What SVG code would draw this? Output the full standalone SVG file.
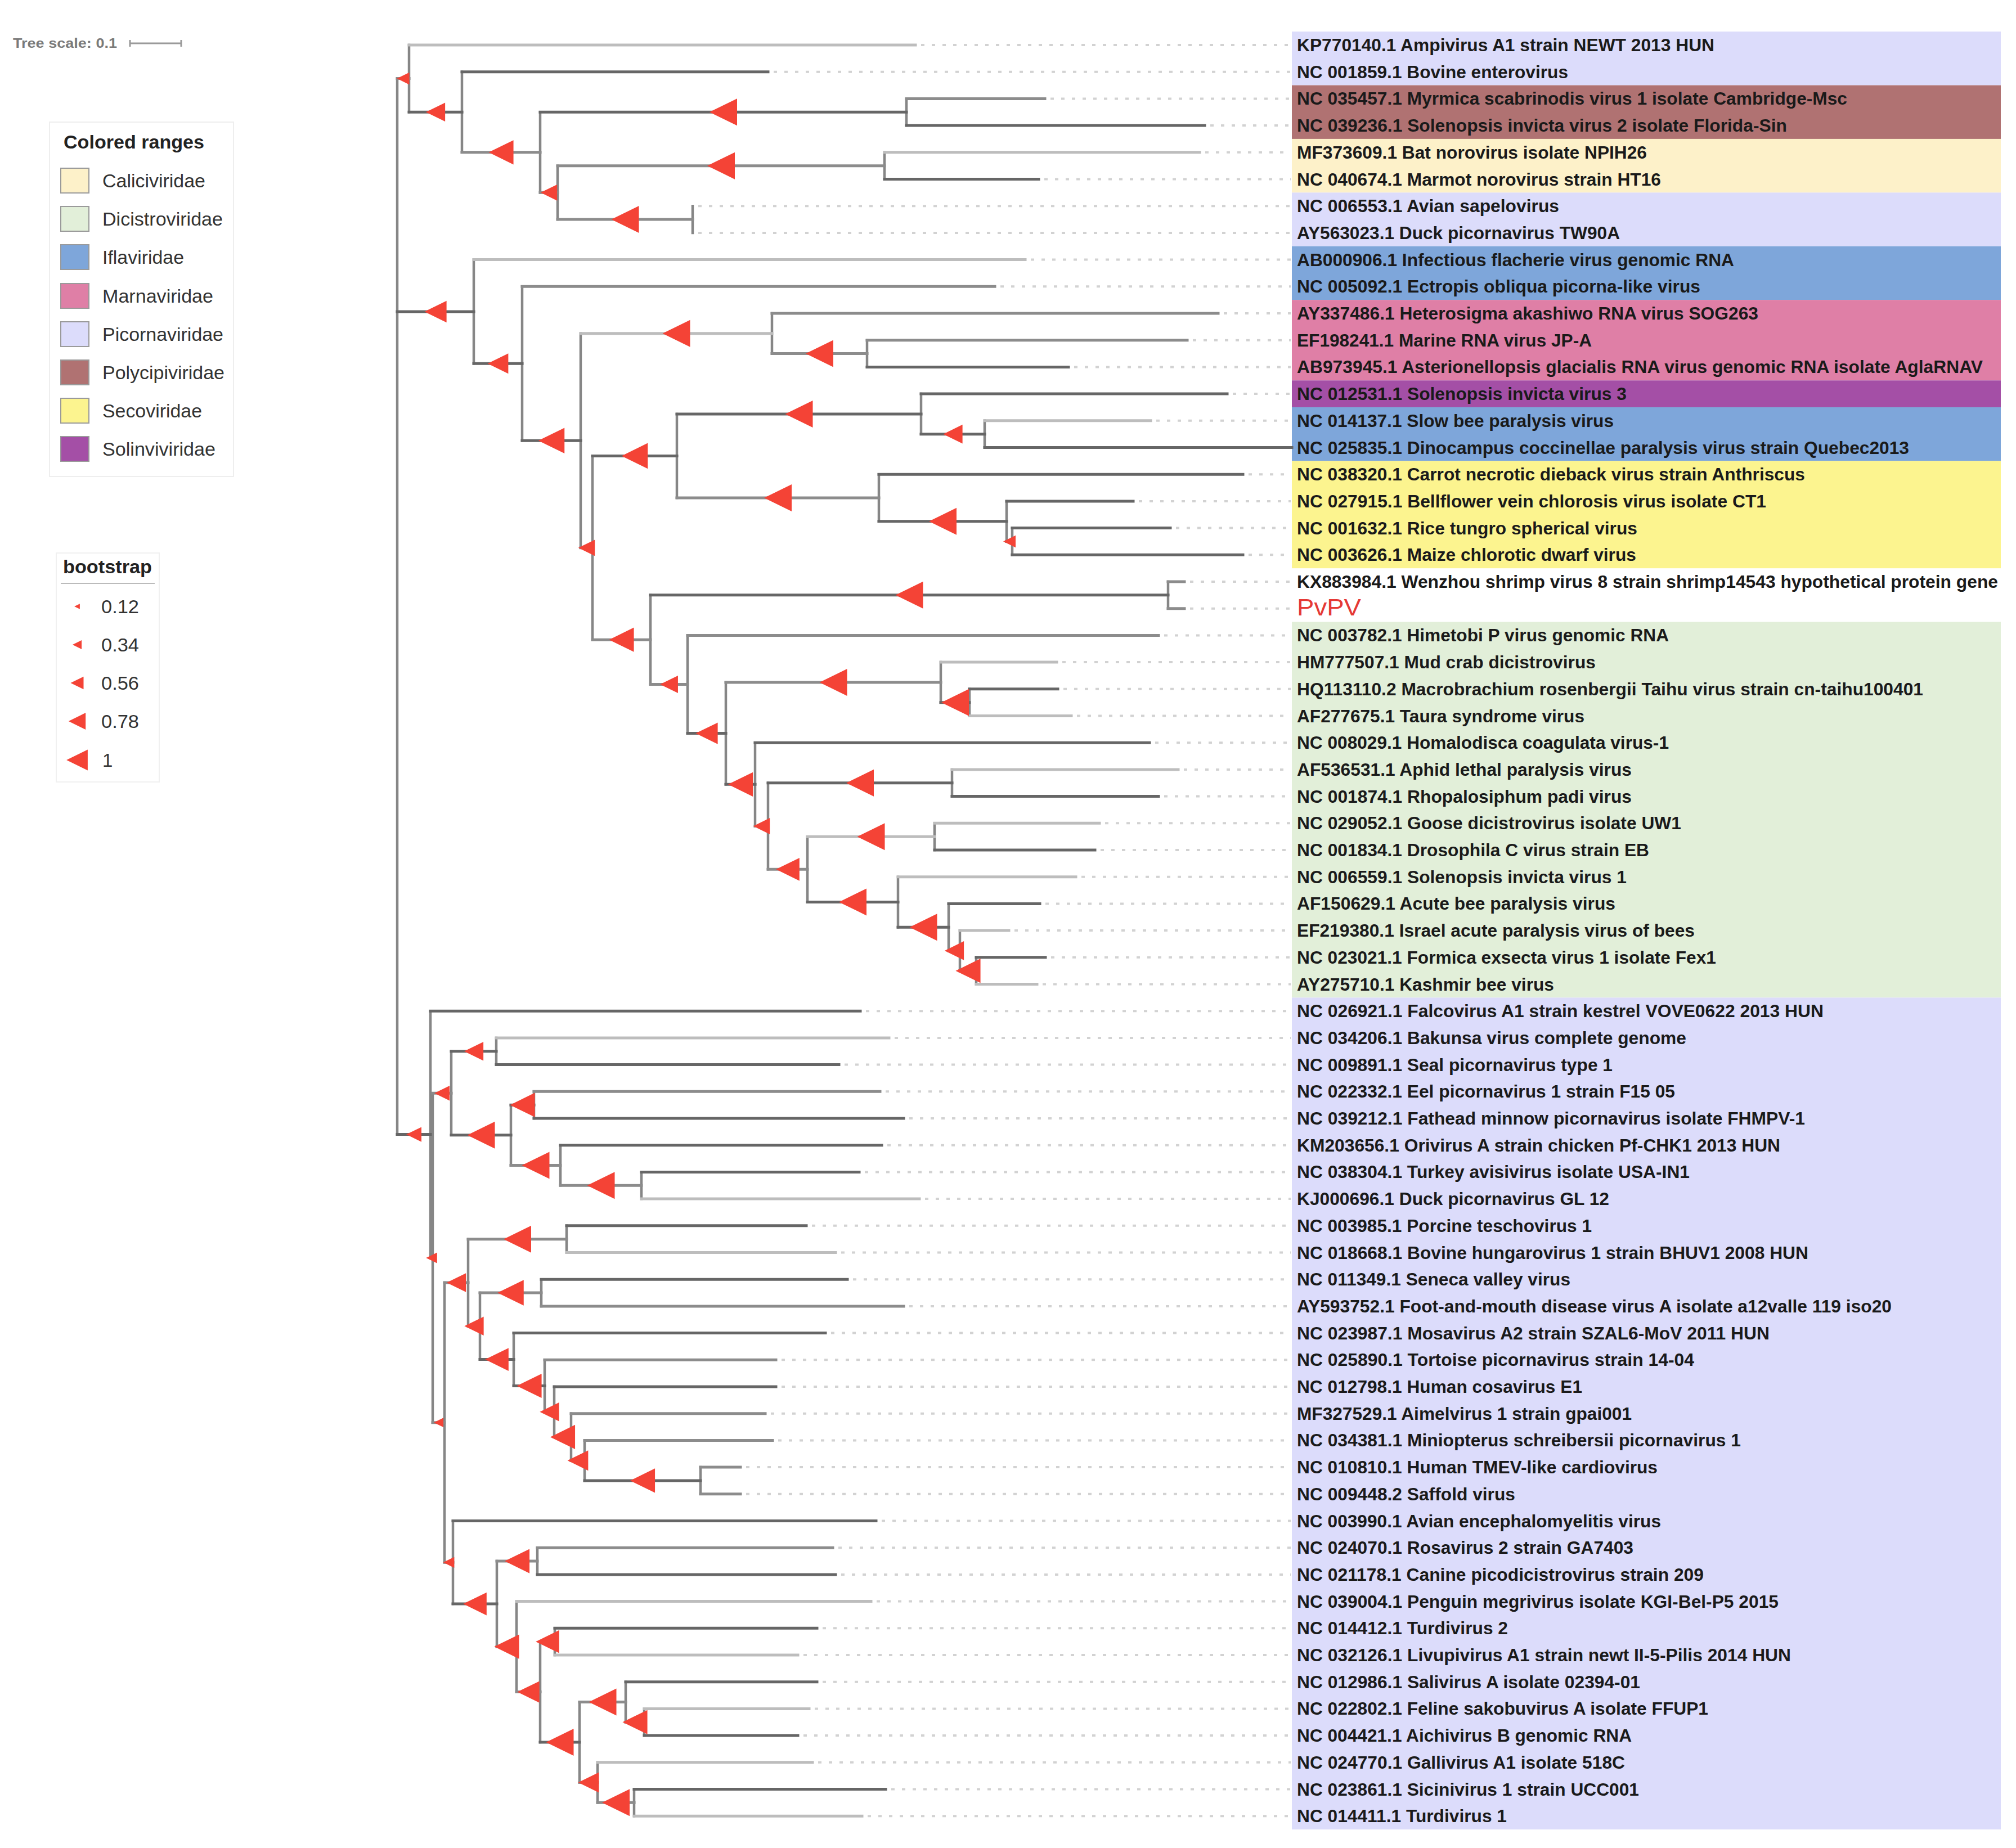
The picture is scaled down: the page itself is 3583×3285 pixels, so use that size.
<svg xmlns="http://www.w3.org/2000/svg" width="3583" height="3285" viewBox="0 0 3583 3285">
<style>
.br{fill:none;stroke-width:5;stroke-linecap:square}
.d{stroke:#666}
.m{stroke:#8c8c8c}
.l{stroke:#bdbdbd}
.v{fill:none;stroke:#868686;stroke-width:4.5;stroke-linecap:square}
.dot{fill:none;stroke:#d2d2d2;stroke-width:4;stroke-dasharray:6 13}
.lab{font-family:"Liberation Sans",Arial,sans-serif;font-weight:bold;font-size:31px;fill:#1a1a1a}
.lg{font-family:"Liberation Sans",Arial,sans-serif;font-size:33px;fill:#333}
.lgt{font-family:"Liberation Sans",Arial,sans-serif;font-weight:bold;font-size:34px;fill:#222}
.sw{stroke:#9a9a9a;stroke-width:2}
.bs{fill:#f44336}
</style>
<defs>
<path id="tri" d="M-24.5,0L24.5,-24L24.5,24Z"/>
</defs>
<rect width="3583" height="3285" fill="#fff"/>

<g id="legend-scale">
<text x="23" y="85" font-family="Liberation Sans, Arial, sans-serif" font-size="24" font-weight="bold" fill="#7a7a7a" textLength="185" lengthAdjust="spacingAndGlyphs">Tree scale: 0.1</text>
<path d="M231 77H322M231 71V83M322 71V83" stroke="#9a9a9a" stroke-width="3" fill="none"/>
</g>

<g id="legend-ranges">
<rect x="88" y="217" width="327" height="630" fill="#fff" stroke="#eeeeee" stroke-width="2"/>
<text class="lgt" x="113" y="264" textLength="250" lengthAdjust="spacingAndGlyphs">Colored ranges</text>
<rect class="sw" x="108" y="299" width="50" height="44" fill="#fdf1c9"/>
<text class="lg" x="182" y="333" textLength="183" lengthAdjust="spacingAndGlyphs">Caliciviridae</text>
<rect class="sw" x="108" y="367" width="50" height="44" fill="#e2efd9"/>
<text class="lg" x="182" y="401" textLength="214" lengthAdjust="spacingAndGlyphs">Dicistroviridae</text>
<rect class="sw" x="108" y="435" width="50" height="44" fill="#7ea6da"/>
<text class="lg" x="182" y="469" textLength="145" lengthAdjust="spacingAndGlyphs">Iflaviridae</text>
<rect class="sw" x="108" y="504" width="50" height="44" fill="#df7fa6"/>
<text class="lg" x="182" y="538" textLength="197" lengthAdjust="spacingAndGlyphs">Marnaviridae</text>
<rect class="sw" x="108" y="572" width="50" height="44" fill="#dcdcfb"/>
<text class="lg" x="182" y="606" textLength="215" lengthAdjust="spacingAndGlyphs">Picornaviridae</text>
<rect class="sw" x="108" y="640" width="50" height="44" fill="#b07272"/>
<text class="lg" x="182" y="674" textLength="217" lengthAdjust="spacingAndGlyphs">Polycipiviridae</text>
<rect class="sw" x="108" y="708" width="50" height="44" fill="#fcf48f"/>
<text class="lg" x="182" y="742" textLength="177" lengthAdjust="spacingAndGlyphs">Secoviridae</text>
<rect class="sw" x="108" y="776" width="50" height="44" fill="#a44fa6"/>
<text class="lg" x="182" y="810" textLength="201" lengthAdjust="spacingAndGlyphs">Solinviviridae</text>
</g>

<g id="legend-bootstrap">
<rect x="100" y="983" width="183" height="407" fill="#fff" stroke="#f0f0f0" stroke-width="2"/>
<text class="lgt" x="112" y="1019" textLength="158" lengthAdjust="spacingAndGlyphs">bootstrap</text>
<line x1="108" y1="1037" x2="275" y2="1037" stroke="#bbb" stroke-width="2"/>
<use href="#tri" class="bs" transform="translate(137,1078) scale(0.2)"/>
<use href="#tri" class="bs" transform="translate(137,1146) scale(0.33)"/>
<use href="#tri" class="bs" transform="translate(137,1214) scale(0.47)"/>
<use href="#tri" class="bs" transform="translate(137,1282) scale(0.62)"/>
<use href="#tri" class="bs" transform="translate(137,1351) scale(0.77)"/>
<text class="lg" x="180" y="1090" textLength="67" lengthAdjust="spacingAndGlyphs">0.12</text>
<text class="lg" x="180" y="1158" textLength="67" lengthAdjust="spacingAndGlyphs">0.34</text>
<text class="lg" x="180" y="1226" textLength="67" lengthAdjust="spacingAndGlyphs">0.56</text>
<text class="lg" x="180" y="1294" textLength="67" lengthAdjust="spacingAndGlyphs">0.78</text>
<text class="lg" x="182" y="1363">1</text>
</g>

<g id="ranges">
<rect x="2296" y="56.15" width="1260" height="95.4" fill="#dcdcfb"/>
<rect x="2296" y="151.55" width="1260" height="95.4" fill="#b07272"/>
<rect x="2296" y="246.95" width="1260" height="95.4" fill="#fdf1c9"/>
<rect x="2296" y="342.35" width="1260" height="95.4" fill="#dcdcfb"/>
<rect x="2296" y="437.75" width="1260" height="95.4" fill="#7ea6da"/>
<rect x="2296" y="533.15" width="1260" height="143.1" fill="#df7fa6"/>
<rect x="2296" y="676.25" width="1260" height="47.7" fill="#a44fa6"/>
<rect x="2296" y="723.95" width="1260" height="95.4" fill="#7ea6da"/>
<rect x="2296" y="819.35" width="1260" height="190.8" fill="#fcf48f"/>
<rect x="2296" y="1105.55" width="1260" height="667.8" fill="#e2efd9"/>
<rect x="2296" y="1773.35" width="1260" height="1478.7" fill="#dcdcfb"/>
</g>

<g id="connectors">
<path class="dot" d="M1637 80H2294M1375 127.7H2294M1867 175.4H2294M2151 223.1H2294M2142 270.8H2294M1856 318.5H2294M1241 366.2H2294M1241 413.9H2294M1832 461.6H2294M1778 509.3H2294M2175 557H2294M2120 604.7H2294M1909 652.4H2294M2191 700.1H2294M2055 747.8H2294M2219 843.2H2294M2024 890.9H2294M2090 938.6H2294M2219 986.3H2294M2115 1034H2294M2115 1081.7H2294M2069 1129.4H2294M1888 1177.1H2294M1890 1224.8H2294M1914 1272.5H2294M2053 1320.2H2294M2104 1367.9H2294M2069 1415.6H2294M1964 1463.3H2294M1956 1511H2294M1922 1558.7H2294M1858 1606.4H2294M1803 1654.1H2294M1868 1701.8H2294M1853 1749.5H2294M1539 1797.2H2294M1590 1844.9H2294M1501 1892.6H2294M1574 1940.3H2294M1616 1988H2294M1577 2035.7H2294M1537 2083.4H2294M1644 2131.1H2294M1443 2178.8H2294M1495 2226.5H2294M1516 2274.2H2294M1616 2321.9H2294M1477 2369.6H2294M1389 2417.3H2294M1389 2465H2294M1370 2512.7H2294M1383 2560.4H2294M1326 2608.1H2294M1326 2655.8H2294M1567 2703.5H2294M1490 2751.2H2294M1495 2798.9H2294M1558 2846.6H2294M1462 2894.3H2294M1428 2942H2294M1462 2989.7H2294M1448 3037.4H2294M1428 3085.1H2294M1454 3132.8H2294M1584 3180.5H2294M1542 3228.2H2294"/>
<path class="v" d="M706 139.6V2016.6M727 80V199.25M821 127.7V270.8M960 199.25V342.35M1611 175.4V223.1M991 294.65V390.05M1572 270.8V318.5M1231 366.2V413.9M842 461.6V646.3M928 509.3V783.3M1032 592.8V973.8M1372 557V628.55M1541 604.7V652.4M1053 810.4V1137.2M1203 735.9V884.95M1637 700.1V771.65M1750 747.8V795.5M1562 843.2V926.7M1789 890.9V962.45M1799 938.6V986.3M1156 1057.85V1216.5M2076 1034V1081.7M1222 1129.4V1303.6M1290 1212.9V1394.35M1672 1177.1V1248.65M1723 1224.8V1272.5M1342 1320.2V1468.5M1365 1391.75V1545.3M1692 1367.9V1415.6M1435 1487.15V1603.4M1661 1463.3V1511M1596 1558.7V1648.15M1686 1606.4V1689.9M1706 1654.1V1725.65M1735 1701.8V1749.5M765 1797.2V2236M769 1943.3V2528.65M802 1868.75V2017.8M882 1844.9V1892.6M908 1964.15V2071.5M949 1940.3V1988M996 2035.7V2107.25M1140 2083.4V2131.1M790 2280V2777.3M832 2202.65V2357.3M1007 2178.8V2226.5M853 2298.05V2416.55M962 2274.2V2321.9M913 2369.6V2463.5M968 2417.3V2509.7M985 2465V2554.45M1015 2512.7V2596.2M1039 2560.4V2631.95M1245 2608.1V2655.8M805 2703.5V2851.1M883 2775.05V2927.1M955 2751.2V2798.9M918 2846.6V3007.6M960 2918.15V3097.05M986 2894.3V2942M1030 3025.5V3168.6M1112 2989.7V3061.25M1145 3037.4V3085.1M1062 3132.8V3204.35M1127 3180.5V3228.2"/>
<path class="br d" d="M706 553.95H842M706 2016.6H765M727 199.25H821M821 127.7H1365M960 199.25H1611M1611 223.1H2141M1572 318.5H1846M842 646.3H928M928 783.3H1032M1541 652.4H1899M1053 810.4H1203M1203 735.9H1637M1637 700.1H2181M1637 771.65H1750M1750 795.5H2296M1562 843.2H2209M1562 926.7H1789M1789 890.9H2014M1789 962.45H1799M1799 938.6H2080M1799 986.3H2209M1156 1057.85H2076M1222 1303.6H1290M1290 1394.35H1342M1672 1248.65H1723M1723 1224.8H1880M1342 1320.2H2043M1365 1391.75H1692M1692 1415.6H2059M1435 1603.4H1596M1661 1511H1946M1596 1648.15H1686M1686 1606.4H1848M1706 1725.65H1735M1735 1701.8H1858M765 1797.2H1529M765 2236H769M802 1868.75H882M802 2017.8H908M882 1892.6H1491M908 1964.15H949M949 1988H1606M996 2035.7H1567M1140 2083.4H1527M1007 2178.8H1433M962 2274.2H1506M853 2416.55H913M913 2369.6H1467M913 2463.5H968M985 2465H1379M1039 2631.95H1245M805 2703.5H1557M805 2851.1H883M955 2798.9H1485M960 3097.05H1030M986 2894.3H1452M1112 2989.7H1452M1145 3085.1H1418M1127 3180.5H1574"/>
<path class="br m" d="M706 139.6H727M821 270.8H960M1611 175.4H1857M960 342.35H991M991 294.65H1572M991 390.05H1231M928 509.3H1768M1032 973.8H1053M1372 557H2165M1372 628.55H1541M1541 604.7H2110M1203 884.95H1562M1053 1137.2H1156M2076 1034H2105M2076 1081.7H2105M1156 1216.5H1222M1222 1129.4H2059M1290 1212.9H1672M1342 1468.5H1365M1365 1545.3H1435M1686 1689.9H1706M769 1943.3H802M769 2528.65H790M908 2071.5H996M949 1940.3H1564M996 2107.25H1140M790 2280H832M790 2777.3H805M832 2202.65H1007M832 2357.3H853M853 2298.05H962M962 2321.9H1606M968 2417.3H1379M968 2509.7H985M985 2554.45H1015M1015 2512.7H1360M1015 2596.2H1039M1039 2560.4H1373M1245 2608.1H1316M1245 2655.8H1316M883 2775.05H955M883 2927.1H918M955 2751.2H1480M918 3007.6H960M960 2918.15H986M1030 3025.5H1112M1030 3168.6H1062M1112 3061.25H1145M1062 3204.35H1127"/>
<path class="br l" d="M727 80H1627M1572 270.8H2132M842 461.6H1822M1032 592.8H1372M1750 747.8H2045M1672 1177.1H1878M1723 1272.5H1904M1692 1367.9H2094M1435 1487.15H1661M1661 1463.3H1954M1596 1558.7H1912M1706 1654.1H1793M1735 1749.5H1843M882 1844.9H1580M1140 2131.1H1634M1007 2226.5H1485M918 2846.6H1548M986 2942H1418M1145 3037.4H1438M1062 3132.8H1444M1127 3228.2H1532"/>
</g>

<g id="bootstrap-markers" class="bs">
<use href="#tri" transform="translate(716.5,139.6) scale(0.45)"/>
<use href="#tri" transform="translate(774,199.25) scale(0.7)"/>
<use href="#tri" transform="translate(890.5,270.8) scale(0.9)"/>
<use href="#tri" transform="translate(1285.5,199.25)"/>
<use href="#tri" transform="translate(975.5,342.35) scale(0.6)"/>
<use href="#tri" transform="translate(1281.5,294.65)"/>
<use href="#tri" transform="translate(1111,390.05)"/>
<use href="#tri" transform="translate(774,553.95) scale(0.8)"/>
<use href="#tri" transform="translate(885,646.3) scale(0.75)"/>
<use href="#tri" transform="translate(980,783.3) scale(0.95)"/>
<use href="#tri" transform="translate(1202,592.8)"/>
<use href="#tri" transform="translate(1456.5,628.55)"/>
<use href="#tri" transform="translate(1042.5,973.8) scale(0.6)"/>
<use href="#tri" transform="translate(1128,810.4) scale(0.95)"/>
<use href="#tri" transform="translate(1420,735.9)"/>
<use href="#tri" transform="translate(1693.5,771.65) scale(0.7)"/>
<use href="#tri" transform="translate(1382.5,884.95)"/>
<use href="#tri" transform="translate(1675.5,926.7)"/>
<use href="#tri" transform="translate(1794,962.45) scale(0.45)"/>
<use href="#tri" transform="translate(1104.5,1137.2) scale(0.9)"/>
<use href="#tri" transform="translate(1616,1057.85)"/>
<use href="#tri" transform="translate(1189,1216.5) scale(0.65)"/>
<use href="#tri" transform="translate(1256,1303.6) scale(0.8)"/>
<use href="#tri" transform="translate(1481,1212.9)"/>
<use href="#tri" transform="translate(1697.5,1248.65)"/>
<use href="#tri" transform="translate(1316,1394.35) scale(0.9)"/>
<use href="#tri" transform="translate(1353.5,1468.5) scale(0.6)"/>
<use href="#tri" transform="translate(1528.5,1391.75)"/>
<use href="#tri" transform="translate(1400,1545.3) scale(0.85)"/>
<use href="#tri" transform="translate(1548,1487.15)"/>
<use href="#tri" transform="translate(1515.5,1603.4)"/>
<use href="#tri" transform="translate(1641,1648.15)"/>
<use href="#tri" transform="translate(1696,1689.9) scale(0.7)"/>
<use href="#tri" transform="translate(1720.5,1725.65) scale(0.9)"/>
<use href="#tri" transform="translate(735.5,2016.6) scale(0.55)"/>
<use href="#tri" transform="translate(767,2236) scale(0.4)"/>
<use href="#tri" transform="translate(785.5,1943.3) scale(0.55)"/>
<use href="#tri" transform="translate(779.5,2528.65) scale(0.35)"/>
<use href="#tri" transform="translate(842,1868.75) scale(0.7)"/>
<use href="#tri" transform="translate(855,2017.8)"/>
<use href="#tri" transform="translate(928.5,1964.15) scale(0.9)"/>
<use href="#tri" transform="translate(952,2071.5)"/>
<use href="#tri" transform="translate(1068,2107.25)"/>
<use href="#tri" transform="translate(811,2280) scale(0.7)"/>
<use href="#tri" transform="translate(919.5,2202.65)"/>
<use href="#tri" transform="translate(842.5,2357.3) scale(0.7)"/>
<use href="#tri" transform="translate(907.5,2298.05) scale(0.95)"/>
<use href="#tri" transform="translate(883,2416.55) scale(0.85)"/>
<use href="#tri" transform="translate(940.5,2463.5) scale(0.9)"/>
<use href="#tri" transform="translate(976.5,2509.7) scale(0.7)"/>
<use href="#tri" transform="translate(1000,2554.45) scale(0.9)"/>
<use href="#tri" transform="translate(1027,2596.2) scale(0.75)"/>
<use href="#tri" transform="translate(1142,2631.95) scale(0.9)"/>
<use href="#tri" transform="translate(797.5,2777.3) scale(0.4)"/>
<use href="#tri" transform="translate(844,2851.1) scale(0.85)"/>
<use href="#tri" transform="translate(919,2775.05) scale(0.9)"/>
<use href="#tri" transform="translate(900.5,2927.1) scale(0.9)"/>
<use href="#tri" transform="translate(939,3007.6) scale(0.8)"/>
<use href="#tri" transform="translate(973,2918.15) scale(0.85)"/>
<use href="#tri" transform="translate(995,3097.05)"/>
<use href="#tri" transform="translate(1071,3025.5)"/>
<use href="#tri" transform="translate(1128.5,3061.25) scale(0.9)"/>
<use href="#tri" transform="translate(1046,3168.6) scale(0.75)"/>
<use href="#tri" transform="translate(1094.5,3204.35)"/>
</g>

<g id="leaves" class="lab">
<g id="leaf-00"><text x="2305" y="91" textLength="742" lengthAdjust="spacingAndGlyphs">KP770140.1 Ampivirus A1 strain NEWT 2013 HUN</text></g>
<g id="leaf-01"><text x="2305" y="138.7" textLength="482" lengthAdjust="spacingAndGlyphs">NC 001859.1 Bovine enterovirus</text></g>
<g id="leaf-02"><text x="2305" y="186.4" textLength="978" lengthAdjust="spacingAndGlyphs">NC 035457.1 Myrmica scabrinodis virus 1 isolate Cambridge-Msc</text></g>
<g id="leaf-03"><text x="2305" y="234.1" textLength="871" lengthAdjust="spacingAndGlyphs">NC 039236.1 Solenopsis invicta virus 2 isolate Florida-Sin</text></g>
<g id="leaf-04"><text x="2305" y="281.8" textLength="622" lengthAdjust="spacingAndGlyphs">MF373609.1 Bat norovirus isolate NPIH26</text></g>
<g id="leaf-05"><text x="2305" y="329.5" textLength="647" lengthAdjust="spacingAndGlyphs">NC 040674.1 Marmot norovirus strain HT16</text></g>
<g id="leaf-06"><text x="2305" y="377.2" textLength="466" lengthAdjust="spacingAndGlyphs">NC 006553.1 Avian sapelovirus</text></g>
<g id="leaf-07"><text x="2305" y="424.9" textLength="574" lengthAdjust="spacingAndGlyphs">AY563023.1 Duck picornavirus TW90A</text></g>
<g id="leaf-08"><text x="2305" y="472.6" textLength="777" lengthAdjust="spacingAndGlyphs">AB000906.1 Infectious flacherie virus genomic RNA</text></g>
<g id="leaf-09"><text x="2305" y="520.3" textLength="717" lengthAdjust="spacingAndGlyphs">NC 005092.1 Ectropis obliqua picorna-like virus</text></g>
<g id="leaf-10"><text x="2305" y="568" textLength="820" lengthAdjust="spacingAndGlyphs">AY337486.1 Heterosigma akashiwo RNA virus SOG263</text></g>
<g id="leaf-11"><text x="2305" y="615.7" textLength="524" lengthAdjust="spacingAndGlyphs">EF198241.1 Marine RNA virus JP-A</text></g>
<g id="leaf-12"><text x="2305" y="663.4" textLength="1219" lengthAdjust="spacingAndGlyphs">AB973945.1 Asterionellopsis glacialis RNA virus genomic RNA isolate AglaRNAV</text></g>
<g id="leaf-13"><text x="2305" y="711.1" textLength="586" lengthAdjust="spacingAndGlyphs">NC 012531.1 Solenopsis invicta virus 3</text></g>
<g id="leaf-14"><text x="2305" y="758.8" textLength="563" lengthAdjust="spacingAndGlyphs">NC 014137.1 Slow bee paralysis virus</text></g>
<g id="leaf-15"><text x="2305" y="806.5" textLength="1088" lengthAdjust="spacingAndGlyphs">NC 025835.1 Dinocampus coccinellae paralysis virus strain Quebec2013</text></g>
<g id="leaf-16"><text x="2305" y="854.2" textLength="903" lengthAdjust="spacingAndGlyphs">NC 038320.1 Carrot necrotic dieback virus strain Anthriscus</text></g>
<g id="leaf-17"><text x="2305" y="901.9" textLength="834" lengthAdjust="spacingAndGlyphs">NC 027915.1 Bellflower vein chlorosis virus isolate CT1</text></g>
<g id="leaf-18"><text x="2305" y="949.6" textLength="605" lengthAdjust="spacingAndGlyphs">NC 001632.1 Rice tungro spherical virus</text></g>
<g id="leaf-19"><text x="2305" y="997.3" textLength="603" lengthAdjust="spacingAndGlyphs">NC 003626.1 Maize chlorotic dwarf virus</text></g>
<g id="leaf-20"><text x="2305" y="1045" textLength="1246" lengthAdjust="spacingAndGlyphs">KX883984.1 Wenzhou shrimp virus 8 strain shrimp14543 hypothetical protein gene</text></g>
<g id="leaf-21"><text x="2305" y="1094" font-weight="normal" font-size="42" fill="#e53935" textLength="114" lengthAdjust="spacingAndGlyphs">PvPV</text></g>
<g id="leaf-22"><text x="2305" y="1140.4" textLength="661" lengthAdjust="spacingAndGlyphs">NC 003782.1 Himetobi P virus genomic RNA</text></g>
<g id="leaf-23"><text x="2305" y="1188.1" textLength="531" lengthAdjust="spacingAndGlyphs">HM777507.1 Mud crab dicistrovirus</text></g>
<g id="leaf-24"><text x="2305" y="1235.8" textLength="1113" lengthAdjust="spacingAndGlyphs">HQ113110.2 Macrobrachium rosenbergii Taihu virus strain cn-taihu100401</text></g>
<g id="leaf-25"><text x="2305" y="1283.5" textLength="511" lengthAdjust="spacingAndGlyphs">AF277675.1 Taura syndrome virus</text></g>
<g id="leaf-26"><text x="2305" y="1331.2" textLength="661" lengthAdjust="spacingAndGlyphs">NC 008029.1 Homalodisca coagulata virus-1</text></g>
<g id="leaf-27"><text x="2305" y="1378.9" textLength="595" lengthAdjust="spacingAndGlyphs">AF536531.1 Aphid lethal paralysis virus</text></g>
<g id="leaf-28"><text x="2305" y="1426.6" textLength="595" lengthAdjust="spacingAndGlyphs">NC 001874.1 Rhopalosiphum padi virus</text></g>
<g id="leaf-29"><text x="2305" y="1474.3" textLength="683" lengthAdjust="spacingAndGlyphs">NC 029052.1 Goose dicistrovirus isolate UW1</text></g>
<g id="leaf-30"><text x="2305" y="1522" textLength="626" lengthAdjust="spacingAndGlyphs">NC 001834.1 Drosophila C virus strain EB</text></g>
<g id="leaf-31"><text x="2305" y="1569.7" textLength="586" lengthAdjust="spacingAndGlyphs">NC 006559.1 Solenopsis invicta virus 1</text></g>
<g id="leaf-32"><text x="2305" y="1617.4" textLength="566" lengthAdjust="spacingAndGlyphs">AF150629.1 Acute bee paralysis virus</text></g>
<g id="leaf-33"><text x="2305" y="1665.1" textLength="707" lengthAdjust="spacingAndGlyphs">EF219380.1 Israel acute paralysis virus of bees</text></g>
<g id="leaf-34"><text x="2305" y="1712.8" textLength="745" lengthAdjust="spacingAndGlyphs">NC 023021.1 Formica exsecta virus 1 isolate Fex1</text></g>
<g id="leaf-35"><text x="2305" y="1760.5" textLength="457" lengthAdjust="spacingAndGlyphs">AY275710.1 Kashmir bee virus</text></g>
<g id="leaf-36"><text x="2305" y="1808.2" textLength="936" lengthAdjust="spacingAndGlyphs">NC 026921.1 Falcovirus A1 strain kestrel VOVE0622 2013 HUN</text></g>
<g id="leaf-37"><text x="2305" y="1855.9" textLength="692" lengthAdjust="spacingAndGlyphs">NC 034206.1 Bakunsa virus complete genome</text></g>
<g id="leaf-38"><text x="2305" y="1903.6" textLength="561" lengthAdjust="spacingAndGlyphs">NC 009891.1 Seal picornavirus type 1</text></g>
<g id="leaf-39"><text x="2305" y="1951.3" textLength="672" lengthAdjust="spacingAndGlyphs">NC 022332.1 Eel picornavirus 1 strain F15 05</text></g>
<g id="leaf-40"><text x="2305" y="1999" textLength="903" lengthAdjust="spacingAndGlyphs">NC 039212.1 Fathead minnow picornavirus isolate FHMPV-1</text></g>
<g id="leaf-41"><text x="2305" y="2046.7" textLength="859" lengthAdjust="spacingAndGlyphs">KM203656.1 Orivirus A strain chicken Pf-CHK1 2013 HUN</text></g>
<g id="leaf-42"><text x="2305" y="2094.4" textLength="698" lengthAdjust="spacingAndGlyphs">NC 038304.1 Turkey avisivirus isolate USA-IN1</text></g>
<g id="leaf-43"><text x="2305" y="2142.1" textLength="555" lengthAdjust="spacingAndGlyphs">KJ000696.1 Duck picornavirus GL 12</text></g>
<g id="leaf-44"><text x="2305" y="2189.8" textLength="524" lengthAdjust="spacingAndGlyphs">NC 003985.1 Porcine teschovirus 1</text></g>
<g id="leaf-45"><text x="2305" y="2237.5" textLength="909" lengthAdjust="spacingAndGlyphs">NC 018668.1 Bovine hungarovirus 1 strain BHUV1 2008 HUN</text></g>
<g id="leaf-46"><text x="2305" y="2285.2" textLength="486" lengthAdjust="spacingAndGlyphs">NC 011349.1 Seneca valley virus</text></g>
<g id="leaf-47"><text x="2305" y="2332.9" textLength="1057" lengthAdjust="spacingAndGlyphs">AY593752.1 Foot-and-mouth disease virus A isolate a12valle 119 iso20</text></g>
<g id="leaf-48"><text x="2305" y="2380.6" textLength="840" lengthAdjust="spacingAndGlyphs">NC 023987.1 Mosavirus A2 strain SZAL6-MoV 2011 HUN</text></g>
<g id="leaf-49"><text x="2305" y="2428.3" textLength="706" lengthAdjust="spacingAndGlyphs">NC 025890.1 Tortoise picornavirus strain 14-04</text></g>
<g id="leaf-50"><text x="2305" y="2476" textLength="507" lengthAdjust="spacingAndGlyphs">NC 012798.1 Human cosavirus E1</text></g>
<g id="leaf-51"><text x="2305" y="2523.7" textLength="595" lengthAdjust="spacingAndGlyphs">MF327529.1 Aimelvirus 1 strain gpai001</text></g>
<g id="leaf-52"><text x="2305" y="2571.4" textLength="789" lengthAdjust="spacingAndGlyphs">NC 034381.1 Miniopterus schreibersii picornavirus 1</text></g>
<g id="leaf-53"><text x="2305" y="2619.1" textLength="641" lengthAdjust="spacingAndGlyphs">NC 010810.1 Human TMEV-like cardiovirus</text></g>
<g id="leaf-54"><text x="2305" y="2666.8" textLength="388" lengthAdjust="spacingAndGlyphs">NC 009448.2 Saffold virus</text></g>
<g id="leaf-55"><text x="2305" y="2714.5" textLength="647" lengthAdjust="spacingAndGlyphs">NC 003990.1 Avian encephalomyelitis virus</text></g>
<g id="leaf-56"><text x="2305" y="2762.2" textLength="598" lengthAdjust="spacingAndGlyphs">NC 024070.1 Rosavirus 2 strain GA7403</text></g>
<g id="leaf-57"><text x="2305" y="2809.9" textLength="723" lengthAdjust="spacingAndGlyphs">NC 021178.1 Canine picodicistrovirus strain 209</text></g>
<g id="leaf-58"><text x="2305" y="2857.6" textLength="856" lengthAdjust="spacingAndGlyphs">NC 039004.1 Penguin megrivirus isolate KGI-Bel-P5 2015</text></g>
<g id="leaf-59"><text x="2305" y="2905.3" textLength="375" lengthAdjust="spacingAndGlyphs">NC 014412.1 Turdivirus 2</text></g>
<g id="leaf-60"><text x="2305" y="2953" textLength="878" lengthAdjust="spacingAndGlyphs">NC 032126.1 Livupivirus A1 strain newt II-5-Pilis 2014 HUN</text></g>
<g id="leaf-61"><text x="2305" y="3000.7" textLength="610" lengthAdjust="spacingAndGlyphs">NC 012986.1 Salivirus A isolate 02394-01</text></g>
<g id="leaf-62"><text x="2305" y="3048.4" textLength="731" lengthAdjust="spacingAndGlyphs">NC 022802.1 Feline sakobuvirus A isolate FFUP1</text></g>
<g id="leaf-63"><text x="2305" y="3096.1" textLength="595" lengthAdjust="spacingAndGlyphs">NC 004421.1 Aichivirus B genomic RNA</text></g>
<g id="leaf-64"><text x="2305" y="3143.8" textLength="583" lengthAdjust="spacingAndGlyphs">NC 024770.1 Gallivirus A1 isolate 518C</text></g>
<g id="leaf-65"><text x="2305" y="3191.5" textLength="608" lengthAdjust="spacingAndGlyphs">NC 023861.1 Sicinivirus 1 strain UCC001</text></g>
<g id="leaf-66"><text x="2305" y="3239.2" textLength="373" lengthAdjust="spacingAndGlyphs">NC 014411.1 Turdivirus 1</text></g>
</g>
</svg>
